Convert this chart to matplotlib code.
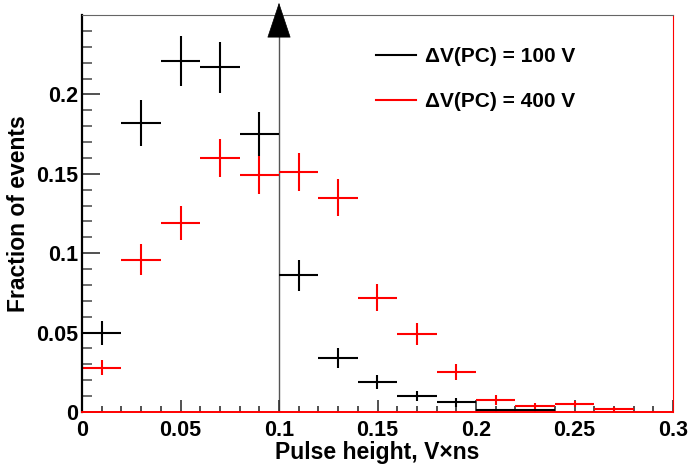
import numpy as np
import matplotlib
matplotlib.use("Agg")
from matplotlib import pyplot as plt
from matplotlib.lines import Line2D

# bin centres (bin width 0.02 V x ns)
x_100 = [0.01, 0.03, 0.05, 0.07, 0.09, 0.11, 0.13, 0.15, 0.17, 0.19, 0.21, 0.23]
y_100 = [0.050, 0.182, 0.221, 0.217, 0.175, 0.086, 0.034, 0.019, 0.010, 0.006, 0.0012, 0.0012]
e_100 = [0.0076, 0.0145, 0.016, 0.016, 0.014, 0.010, 0.006, 0.0046, 0.003, 0.0028, 0.001, 0.001]

x_400 = [0.01, 0.03, 0.05, 0.07, 0.09, 0.11, 0.13, 0.15, 0.17, 0.19, 0.21, 0.23, 0.25, 0.27]
y_400 = [0.028, 0.096, 0.119, 0.160, 0.149, 0.151, 0.135, 0.072, 0.049, 0.025, 0.0074, 0.004, 0.0052, 0.002]
e_400 = [0.005, 0.0096, 0.0106, 0.012, 0.012, 0.012, 0.0118, 0.0087, 0.0071, 0.005, 0.003, 0.0018, 0.002, 0.0012]

labels = ["ΔV(PC) = 100 V", "ΔV(PC) = 400 V"]
bin_half = 0.01
cut_x = 0.1

plt.rcParams["font.family"] = ["Liberation Sans", "DejaVu Sans"]
plt.rcParams["font.weight"] = "bold"

fig = plt.figure(figsize=(6.93, 4.65), dpi=100)
ax = fig.add_axes([82 / 693, 53 / 465, 591 / 693, 397 / 465])

ax.errorbar(x_100, y_100, xerr=bin_half, yerr=e_100, fmt="none",
            ecolor="black", elinewidth=1.5, capsize=0)
ax.errorbar(x_400, y_400, xerr=bin_half, yerr=e_400, fmt="none",
            ecolor="red", elinewidth=1.5, capsize=0)

# cut line with arrow on top
ax.axvline(cut_x, color="#555555", lw=1.0, zorder=1)
ax.annotate("", xy=(cut_x, 1.038), xytext=(cut_x, 0.955),
            xycoords=("data", "axes fraction"), textcoords=("data", "axes fraction"),
            arrowprops=dict(arrowstyle="-|>,head_length=2.4,head_width=0.8",
                            color="black", lw=0.5, mutation_scale=10),
            annotation_clip=False)

ax.set_xlim(0, 0.3)
ax.set_ylim(0, 0.25)
ax.set_xticks(np.arange(0, 0.301, 0.05))
ax.set_xticks(np.arange(0, 0.301, 0.01), minor=True)
ax.set_yticks(np.arange(0, 0.201, 0.05))
ax.set_yticks(np.arange(0, 0.241, 0.01), minor=True)
ax.set_xticklabels(["0", "0.05", "0.1", "0.15", "0.2", "0.25", "0.3"])
ax.set_yticklabels(["0", "0.05", "0.1", "0.15", "0.2"])

ax.tick_params(axis="both", which="both", direction="in", labelsize=15.5)
ax.tick_params(axis="x", which="major", length=8.5, width=1.2, pad=6, color="#333333")
ax.tick_params(axis="x", which="minor", length=4.3, width=1.2, color="#333333")
ax.tick_params(axis="y", which="major", length=13, width=1.2, pad=3, color="#333333")
ax.tick_params(axis="y", which="minor", length=7, width=1.2, color="#555555")

ax.spines["top"].set_color("#666666")
ax.spines["left"].set_color("black")
ax.spines["left"].set_linewidth(1.6)
ax.spines["right"].set_color("red")
ax.spines["bottom"].set_color("red")
ax.spines["bottom"].set_linewidth(1.4)

ax.set_xlabel("Pulse height, V×ns", fontsize=16.5, fontweight="bold", labelpad=0)
ax.set_ylabel("Fraction of events", fontsize=16.5, fontweight="bold", labelpad=4)

handles = [Line2D([], [], color="black", lw=1.5), Line2D([], [], color="red", lw=1.5)]
ax.legend(handles, labels, loc="upper left", bbox_to_anchor=(0.466, 0.966), frameon=False,
          fontsize=15, handlelength=1.9, handletextpad=0.45, labelspacing=1.25)

fig.savefig("out.png", dpi=100)
